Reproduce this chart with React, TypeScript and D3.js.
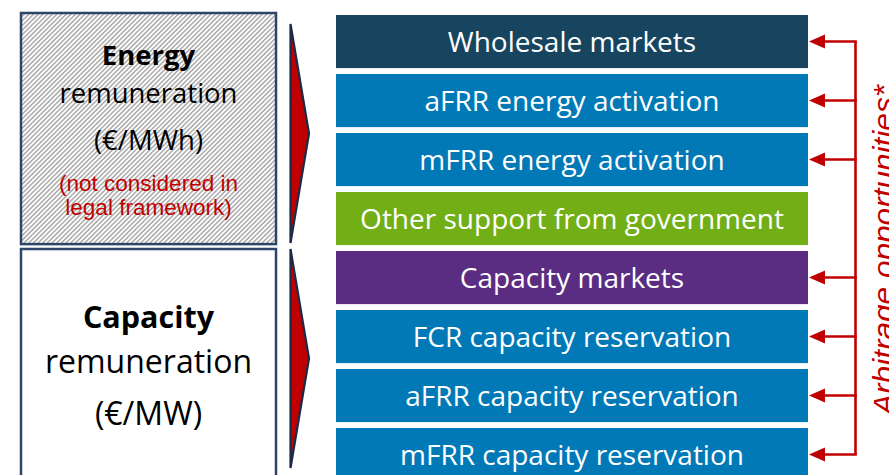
import React from "react";
import * as d3 from "d3";

// right-hand column of revenue streams
const markets = [
  "Wholesale markets",
  "aFRR energy activation",
  "mFRR energy activation",
  "Other support from government",
  "Capacity markets",
  "FCR capacity reservation",
  "aFRR capacity reservation",
  "mFRR capacity reservation",
];
const marketColors = [
  "#17455f",
  "#0079b6",
  "#0079b6",
  "#72ae16",
  "#5a2d82",
  "#0079b6",
  "#0079b6",
  "#0079b6",
];
// which rows get an arbitrage arrow
const arbitrage = [true, true, true, false, true, true, true, true];

const groupNames = ["Energy", "Capacity"];
const groupUnits = ["(€/MWh)", "(€/MW)"];
const groupRows = [
  ["Wholesale markets", "Other support from government"],
  ["Capacity markets", "mFRR capacity reservation"],
];
const energyNote = ["(not considered in", "legal framework)"];
const sideLabel = "Arbitrage opportunities*";

const W = 889;
const H = 475;
const RED = "#c00000";
const NAVY = "#2e4468";

export default function App() {
  const y = d3
    .scaleBand<string>()
    .domain(markets)
    .range([15, 481.1])
    .paddingInner(0.1)
    .paddingOuter(0);
  const x0 = 336;
  const x1 = 808;
  const bw = y.bandwidth();
  const mid = (m: string) => (y(m) as number) + bw / 2;

  const lineX = 855.5;
  const arrowRows = markets.filter((_, i) => arbitrage[i]);
  const firstY = mid(arrowRows[0]);
  const lastY = mid(arrowRows[arrowRows.length - 1]);

  return (
    <svg width={W} height={H} style={{ position: "absolute", left: 0, top: 0 }}>
      <defs>
        <pattern
          id="hatch"
          width={3.3}
          height={3.3}
          patternUnits="userSpaceOnUse"
          patternTransform="rotate(45)"
        >
          <rect width={3.3} height={3.3} fill="#ffffff" />
          <line x1={0.7} y1={0} x2={0.7} y2={3.3} stroke="#a3a3a3" strokeWidth={1.4} />
        </pattern>
      </defs>
      <rect width={W} height={H} fill="#ffffff" />

      {/* left group boxes + chevrons */}
      {groupRows.map((g, i) => {
        const top = (y(g[0]) as number) - 2;
        const bottom = (y(g[1]) as number) + bw - 1;
        const cx = 148.5;
        const ct = i === 0 ? top + 11 : top;
        const cb = ct + 219;
        const cm = (ct + cb) / 2;
        return (
          <g key={groupNames[i]}>
            <rect
              x={21}
              y={top}
              width={255}
              height={bottom - top}
              fill={i === 0 ? "url(#hatch)" : "#ffffff"}
              stroke={NAVY}
              strokeWidth={2.5}
            />
            <path
              d={`M290.5,${ct} L309,${cm} L290.5,${cb} Z`}
              fill={RED}
              stroke="#1c2a48"
              strokeWidth={2.2}
              strokeLinejoin="miter"
            />
            {i === 0 ? (
              <g fontFamily="'Open Sans', sans-serif" fill="#000" textAnchor="middle">
                <text x={cx} y={top + 52} fontSize={27.5} fontWeight={700}>
                  {groupNames[i]}
                </text>
                <text x={cx} y={top + 90} fontSize={27.5}>
                  remuneration
                </text>
                <text x={cx} y={top + 137} fontSize={27.5}>
                  {groupUnits[i]}
                </text>
                {energyNote.map((t, k) => (
                  <text
                    key={t}
                    x={cx}
                    y={top + 178 + k * 24.3}
                    fontSize={22.5}
                    fontFamily="'Liberation Sans', Arial, sans-serif"
                    fill={RED}
                  >
                    {t}
                  </text>
                ))}
              </g>
            ) : (
              <g fontFamily="'Open Sans', sans-serif" fill="#000" textAnchor="middle">
                <text x={cx} y={top + 79} fontSize={30.5} fontWeight={700}>
                  {groupNames[i]}
                </text>
                <text x={cx} y={top + 124} fontSize={32}>
                  remuneration
                </text>
                <text x={cx} y={top + 176} fontSize={32}>
                  {groupUnits[i]}
                </text>
              </g>
            )}
          </g>
        );
      })}

      {/* market boxes */}
      {markets.map((m, i) => (
        <g key={m}>
          <rect x={x0} y={y(m)} width={x1 - x0} height={bw} fill={marketColors[i]} />
          <text
            x={(x0 + x1) / 2}
            y={mid(m) + 10}
            textAnchor="middle"
            fill="#ffffff"
            fontSize={28}
            fontFamily="'Open Sans', sans-serif"
          >
            {m}
          </text>
        </g>
      ))}

      {/* arbitrage arrows */}
      <line x1={lineX} x2={lineX} y1={firstY} y2={lastY} stroke={RED} strokeWidth={2.6} />
      {arrowRows.map((m) => {
        const cy = mid(m);
        return (
          <g key={"a" + m}>
            <line x1={lineX + 1.3} x2={x1 + 14} y1={cy} y2={cy} stroke={RED} strokeWidth={2.6} />
            <path d={`M${x1 + 1},${cy} L${x1 + 17},${cy - 7} L${x1 + 17},${cy + 7} Z`} fill={RED} />
          </g>
        );
      })}
      <text
        transform={`translate(894,250) rotate(-90)`}
        textAnchor="middle"
        fontSize={30}
        fontStyle="italic"
        fontFamily="'Liberation Sans', Arial, sans-serif"
        fill={RED}
        textLength={330}
        lengthAdjust="spacingAndGlyphs"
      >
        {sideLabel}
      </text>
    </svg>
  );
}
